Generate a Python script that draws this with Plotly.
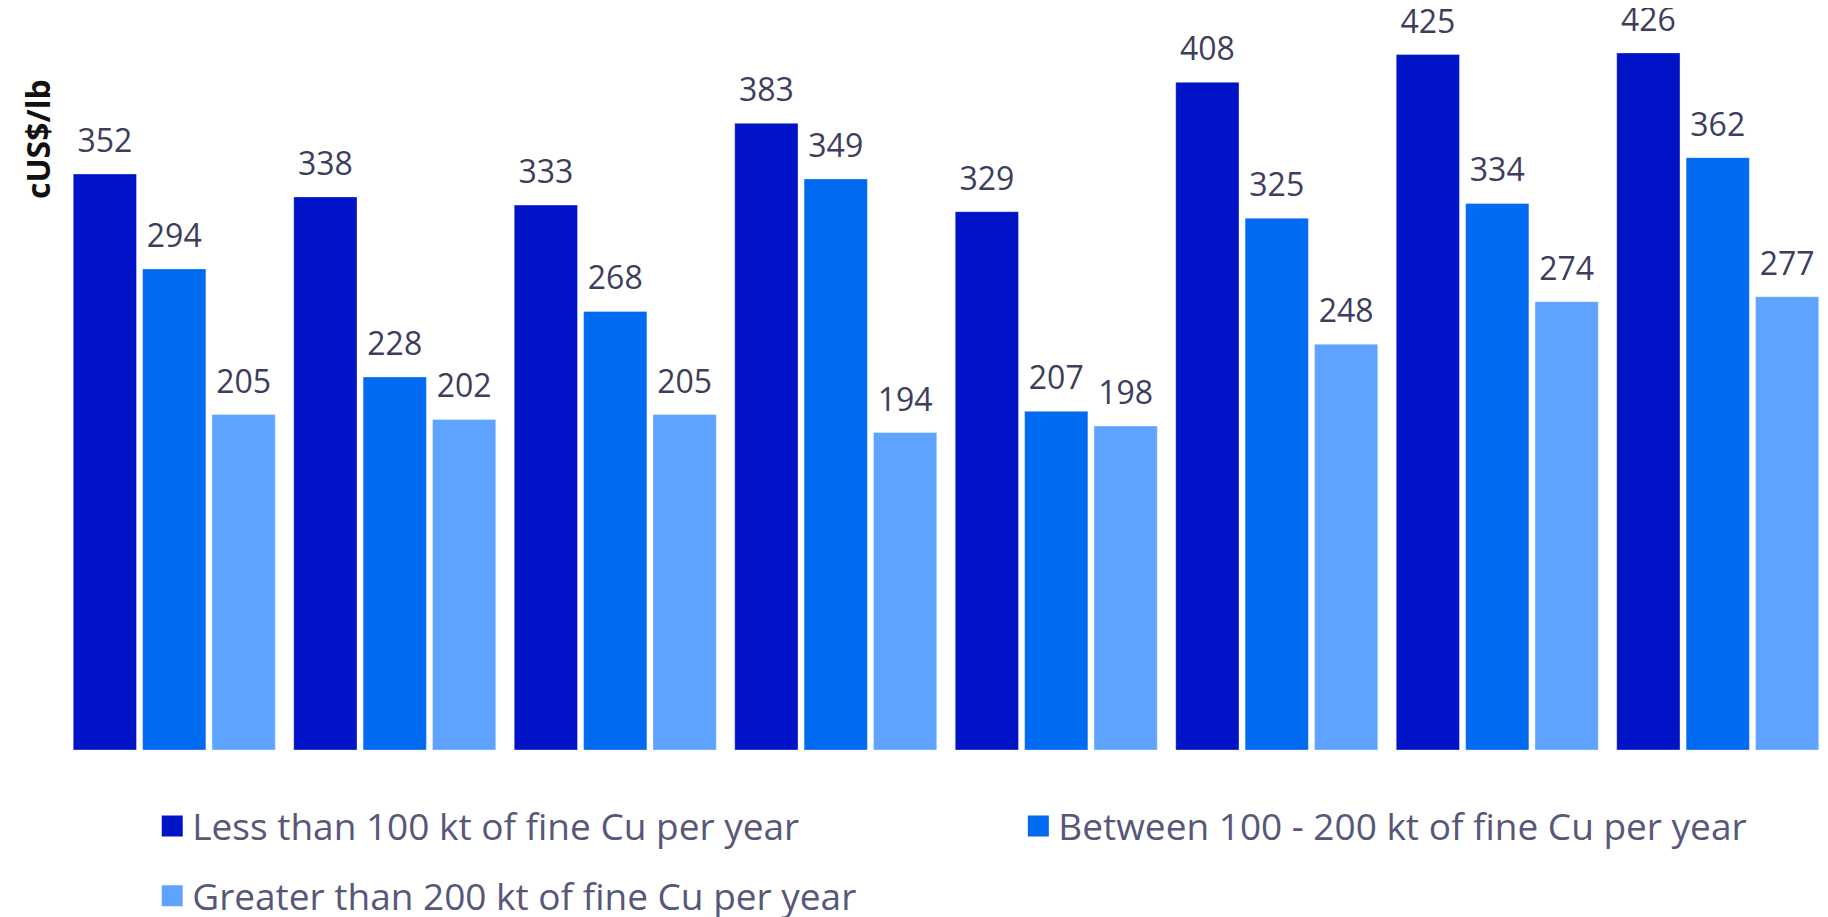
import plotly.graph_objects as go

categories = ["2015", "2016", "2017", "2018", "2019", "2020", "2021", "2022"]
series_names = [
    "Less than 100 kt of fine Cu per year",
    "Between 100 - 200 kt of fine Cu per year",
    "Greater than 200 kt of fine Cu per year",
]
less_100 = [352, 338, 333, 383, 329, 408, 425, 426]
between_100_200 = [294, 228, 268, 349, 207, 325, 334, 362]
greater_200 = [205, 202, 205, 194, 198, 248, 274, 277]
colors = ["#0013C6", "#006AF0", "#5EA3FF"]
legend_ids = ["legend", "legend2", "legend3"]

# invisible spacer (shifted below the baseline) that lifts the value labels above the bars
pad = "<span style='font-size:20px;baseline-shift:-13px'>\u00a0</span>"

fig = go.Figure()
for name, vals, col in zip(series_names, [less_100, between_100_200, greater_200], colors):
    fig.add_trace(go.Bar(
        x=categories, y=vals, name=name, showlegend=False,
        marker=dict(color=col, line=dict(color="rgba(255,255,255,0.35)", width=1)),
        texttemplate=pad + "%{y}" + pad, textposition="outside", cliponaxis=False,
        constraintext="none",
        textfont=dict(family="Open Sans", size=32, color="#3d3d5c"),
    ))
# legend entries (no data points)
for name, col, lg in zip(series_names, colors, legend_ids):
    fig.add_trace(go.Scatter(
        x=[None], y=[None], mode="markers", name=name, legend=lg,
        marker=dict(symbol="square", size=16, color=col, line=dict(color=col, width=5)),
        hoverinfo="skip",
    ))

legend_font = dict(family="Open Sans", size=37, color="#57577a")
common = dict(xref="container", yref="container", xanchor="left", yanchor="middle",
              font=legend_font, bgcolor="rgba(0,0,0,0)")

fig.update_layout(
    width=1828, height=917,
    margin=dict(l=56, r=8, t=22, b=175, autoexpand=False),
    barmode="group", bargap=0.056, bargroupgap=0.088,
    plot_bgcolor="white", paper_bgcolor="white",
    font=dict(family="Open Sans"),
    xaxis=dict(showticklabels=False, showgrid=False, zeroline=False, showline=False, ticks=""),
    yaxis=dict(range=[0, 440], showticklabels=False, showgrid=False, zeroline=False, showline=False, ticks=""),
    legend=dict(x=0.0789, y=0.1076, **common),
    legend2=dict(x=0.5527, y=0.1076, **common),
    legend3=dict(x=0.0789, y=0.0313, **common),
    annotations=[dict(
        text="<b>cUS$/lb</b>", textangle=-90, xref="paper", yref="paper",
        x=-0.0153, y=0.8486, xanchor="center", yanchor="middle", showarrow=False,
        font=dict(family="Open Sans", size=32, color="#111111"),
    )],
)

fig.write_html("out.html")
